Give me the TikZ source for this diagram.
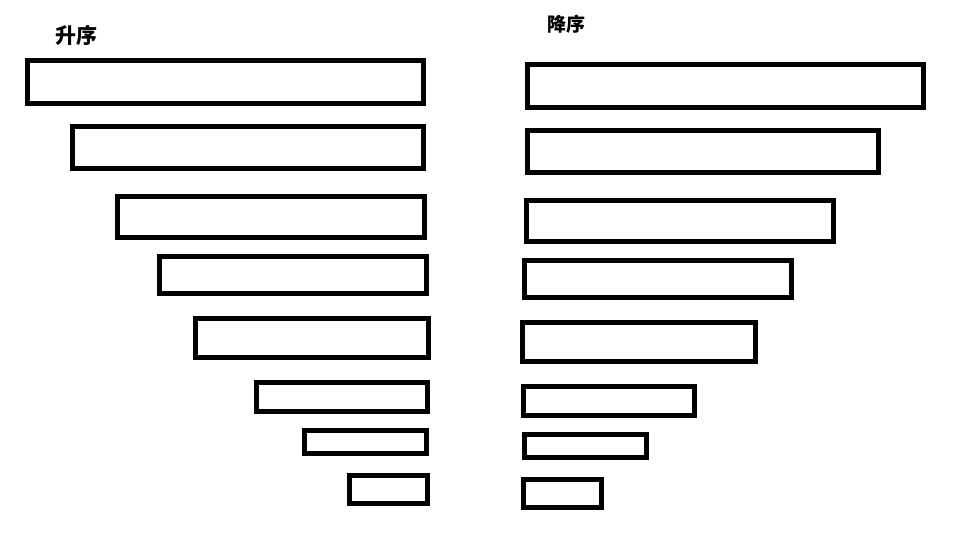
\documentclass[tikz,border=0pt]{standalone}
\usepackage{fontspec}
\newfontfamily\cjk{Noto Sans CJK SC}
\usepackage{tikz}
\usetikzlibrary{positioning}

\tikzset{
    bar/.style={draw=black, line width=5pt, inner sep=0pt, fill=white},
    title/.style={font=\cjk\bfseries, inner sep=0pt}
}

\begin{document}
\begin{tikzpicture}[x=1pt, y=-1pt]
    \useasboundingbox (0,0) rectangle (966,556);

    % Titles
    \node[title, font=\cjk\bfseries\fontsize{21}{21}\selectfont] (asctitle) at (76, 35.5) {升序};
    \node[title, font=\cjk\bfseries\fontsize{19}{19}\selectfont] (desctitle) at (566.5, 24.5) {降序};

    % Ascending bars (left edge x1, right edge x2, top y1, bottom y2)
    \foreach \i/\xa/\xb/\ya/\yb in {1/25/426/58/106, 2/70/426/124/171, 3/115/427/194/240,
        4/157/429/254/296, 5/193/431/316/360, 6/254/430/380/414,
        7/302/429/428/456, 8/347/430/473/506} {
        \node[bar, minimum width={\xb-\xa-5}, minimum height={\yb-\ya-5}]
            (asc\i) at ({(\xa+\xb)/2}, {(\ya+\yb)/2}) {};
    }

    % Descending bars
    \foreach \i/\xa/\xb/\ya/\yb in {1/525/926/62/110, 2/525/881/128/175, 3/524/836/198/244,
        4/522/794/258/300, 5/520/758/320/364, 6/521/697/384/418,
        7/522/649/432/460, 8/521/604/477/510} {
        \node[bar, minimum width={\xb-\xa-5}, minimum height={\yb-\ya-5}]
            (desc\i) at ({(\xa+\xb)/2}, {(\ya+\yb)/2}) {};
    }
\end{tikzpicture}
\end{document}
